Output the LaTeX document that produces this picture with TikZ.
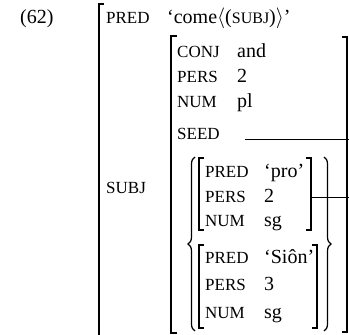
\documentclass[tikz,border=0pt]{standalone}
\usepackage{fontspec}
\setmainfont{Liberation Serif}
\usetikzlibrary{decorations.pathreplacing}
\newcommand{\fs}[1]{{\fontsize{16}{18}\selectfont #1}}
\tikzset{
  txt/.style={anchor=base west, inner sep=0pt, font=\fontsize{20}{23}\selectfont},
  feat/.style={anchor=base west, inner sep=0pt, font=\fontsize{17}{19}\selectfont},
  brk/.style={line width=1.1pt},
  ln/.style={line width=0.8pt},
  brc/.style={line width=1.2pt, decorate, decoration={brace, amplitude=7pt}}
}
\begin{document}
\begin{tikzpicture}[x=1pt,y=-1pt]
\useasboundingbox (0,0) rectangle (349,335);
% example number
\node[txt] (num) at (20,23) {(62)};
% outer bracket
\draw[brk] (104,4) -- (99,4) -- (99,340);
\node[feat] (pred) at (106,23) {PRED};
\node[txt] (predv) at (167,23) {‘come$\langle$(\fs{SUBJ})$\rangle$’};
\node[feat] (subj) at (106,193) {SUBJ};
% inner bracket
\draw[brk] (177,36) -- (171,36) -- (171,333) -- (177,333);
\draw[brk] (342,37) -- (347,37) -- (347,332) -- (342,332);
\node[feat] (conj) at (177,57) {CONJ};
\node[txt] (conjv) at (237,57) {and};
\node[feat] (pers) at (177,82) {PERS};
\node[txt] (persv) at (237,82) {2};
\node[feat] (numf) at (177,107) {NUM};
\node[txt] (numv) at (237,107) {pl};
\node[feat] (seed) at (177,139) {SEED};
\coordinate (seedA) at (245,139);
\coordinate (seedB) at (349,139);
\draw[ln] (seedA) -- (seedB);
% set braces
\draw[brc] (195,331) -- (195,157);
\draw[brc] (324,157) -- (324,331);
% AVM 1
\draw[brk] (204,158) -- (199,158) -- (199,230) -- (204,230);
\draw[brk] (306,158) -- (311,158) -- (311,230) -- (306,230);
\node[feat] (p1) at (205,177) {PRED};
\node[txt] (p1v) at (264,177) {‘pro’};
\node[feat] (e1) at (205,202) {PERS};
\node[txt] (e1v) at (264,202) {2};
\node[feat] (n1) at (205,226) {NUM};
\node[txt] (n1v) at (264,226) {sg};
\coordinate (avmA) at (311,197);
\coordinate (avmB) at (349,197);
\draw[ln] (avmA) -- (avmB);
% AVM 2
\draw[brk] (204,245) -- (199,245) -- (199,328) -- (204,328);
\draw[brk] (312,245) -- (317,245) -- (317,328) -- (312,328);
\node[feat] (p2) at (205,263) {PRED};
\node[txt] (p2v) at (264,263) {‘Siôn’};
\node[feat] (e2) at (205,290) {PERS};
\node[txt] (e2v) at (264,290) {3};
\node[feat] (n2) at (205,318) {NUM};
\node[txt] (n2v) at (264,318) {sg};
\end{tikzpicture}
\end{document}
